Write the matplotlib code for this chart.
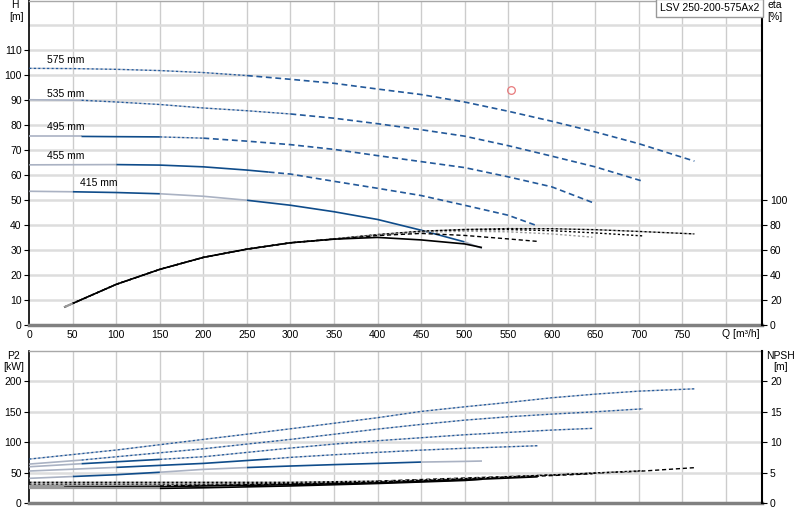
import matplotlib
matplotlib.use("Agg")
import matplotlib.pyplot as plt
import matplotlib.transforms as mtransforms
import numpy as np

plt.rcParams['font.family'] = ['Liberation Sans', 'DejaVu Sans']
FS = 7.5

# ---------------- data ----------------
diameters = ['575', '535', '495', '455', '415']
diam_labels = ['575 mm', '535 mm', '495 mm', '455 mm', '415 mm']

# Q-H curves
q_h_575 = [0, 50, 100, 150, 200, 250, 300, 350, 400, 450, 500, 550, 600, 650, 700, 764]
h_575 = [102.8, 102.7, 102.4, 101.9, 101.1, 99.9, 98.4, 96.8, 94.5, 92.3, 89.3, 85.6, 81.6, 77.3, 72.6, 65.6]
q_h_535 = [0, 60, 100, 150, 200, 250, 300, 350, 400, 450, 500, 550, 600, 650, 705]
h_535 = [90.2, 90.0, 89.3, 88.3, 86.9, 85.8, 84.5, 82.8, 80.6, 78.2, 75.6, 71.8, 67.6, 63.3, 57.5]
q_h_495 = [0, 60, 100, 150, 200, 250, 300, 350, 400, 450, 500, 550, 600, 647]
h_495 = [75.5, 75.5, 75.4, 75.3, 74.8, 73.6, 72.2, 70.3, 67.8, 65.4, 63.0, 59.3, 55.3, 49.0]
q_h_455 = [0, 100, 150, 200, 250, 275, 300, 350, 400, 450, 500, 550, 584]
h_455 = [64.1, 64.2, 64.0, 63.3, 62.0, 61.2, 60.4, 57.5, 54.7, 51.8, 47.9, 43.9, 39.6]
q_h_415 = [0, 50, 100, 150, 200, 250, 300, 350, 400, 450, 500, 520]
h_415 = [53.5, 53.3, 53.0, 52.5, 51.5, 49.9, 47.9, 45.3, 42.2, 37.9, 33.2, 30.6]

# efficiency curves [%]
q_eta_575 = [40, 50, 100, 150, 200, 250, 300, 350, 400, 450, 500, 550, 600, 650, 700, 764]
eta_575 = [14, 17.1, 32.4, 44.4, 54, 60.6, 65.7, 68.8, 72.3, 75.0, 76.4, 77.1, 77.0, 76.2, 74.8, 72.8]
q_eta_535 = [40, 50, 100, 150, 200, 250, 300, 350, 400, 450, 500, 550, 600, 650, 705]
eta_535 = [14, 17.1, 32.4, 44.4, 54, 60.6, 65.7, 68.7, 72.0, 74.6, 76.0, 76.3, 75.4, 73.6, 71.2]
q_eta_495 = [40, 50, 100, 150, 200, 250, 300, 350, 400, 450, 500, 550, 600, 647]
eta_495 = [14, 17.1, 32.4, 44.4, 54, 60.6, 65.7, 68.6, 71.8, 74.0, 75.0, 74.5, 72.8, 70.2]
q_eta_455 = [40, 50, 100, 150, 200, 250, 300, 350, 400, 450, 500, 550, 584]
eta_455 = [14, 17.1, 32.4, 44.4, 54, 60.6, 65.7, 68.6, 71.5, 73.2, 71.6, 68.8, 66.8]
q_eta_415 = [40, 50, 100, 150, 200, 250, 300, 350, 400, 450, 500, 520]
eta_415 = [14, 17.1, 32.4, 44.4, 54, 60.6, 65.7, 68.6, 70.0, 68.0, 64.8, 61.9]

# P2 curves [kW]
q_p2_575 = [0, 100, 200, 250, 300, 400, 450, 500, 550, 600, 650, 700, 764]
p2_575 = [72.1, 87.0, 104.4, 113.0, 121.8, 140.0, 150.3, 157.9, 165.0, 172.7, 178.7, 183.6, 187.4]
q_p2_535 = [0, 60, 100, 200, 300, 400, 450, 500, 550, 600, 650, 705]
p2_535 = [63.9, 70.5, 75.9, 89.0, 104.4, 121.3, 129.0, 136.0, 141.5, 145.9, 149.7, 154.6]
q_p2_495 = [0, 60, 150, 200, 300, 350, 400, 450, 500, 550, 600, 647]
p2_495 = [59.5, 64.5, 71.6, 75.9, 90.2, 96.7, 102.2, 107.1, 112.0, 115.9, 119.7, 122.5]
q_p2_455 = [0, 100, 200, 275, 300, 350, 400, 450, 500, 550, 584]
p2_455 = [52.5, 58.5, 65.0, 72.1, 74.9, 79.2, 83.1, 86.8, 89.8, 92.3, 94.0]
q_p2_415 = [0, 50, 100, 150, 200, 250, 300, 350, 400, 450, 500, 520]
p2_415 = [40.5, 43.5, 46.4, 50.5, 55.2, 58.2, 60.7, 63.0, 65.0, 67.2, 68.3, 68.9]

# NPSH curves [m]
q_n_575 = [0, 40, 150, 200, 300, 400, 500, 600, 700, 764]
npsh_575 = [3.4, 3.4, 3.4, 3.4, 3.4, 3.6, 4.1, 4.6, 5.2, 5.8]
q_n_535 = [0, 40, 150, 200, 300, 400, 500, 600, 705]
npsh_535 = [3.1, 3.1, 3.1, 3.1, 3.2, 3.5, 4.0, 4.6, 5.3]
q_n_495 = [0, 40, 150, 200, 300, 400, 500, 600, 647]
npsh_495 = [2.8, 2.8, 2.8, 2.9, 3.1, 3.4, 3.9, 4.5, 4.8]
q_n_455 = [0, 40, 150, 200, 300, 400, 500, 584]
npsh_455 = [2.6, 2.6, 2.7, 2.8, 3.0, 3.3, 3.8, 4.3]
q_n_415 = [0, 40, 150, 200, 300, 400, 500, 520]
npsh_415 = [2.4, 2.4, 2.4, 2.5, 2.8, 3.2, 3.7, 3.9]

# duty point
duty_q = [553]
duty_h = [94]

h_ticks = list(range(0, 120, 10))
eta_ticks = list(range(0, 120, 20))
q_ticks = list(range(0, 800, 50))
p2_ticks = list(range(0, 250, 50))
npsh_ticks = list(range(0, 25, 5))
title_text = 'LSV 250-200-575Ax2'

# ---------------- styles ----------------
BLUE = '#0f4c8a'
BLUE2 = '#23599a'
GRAYB = '#aab2c3'
STY = {
    'gs': dict(color=GRAYB, lw=1.2, ls='-'),
    'bs': dict(color=BLUE, lw=1.2, ls='-'),
    'bd': dict(color=BLUE2, lw=1.0, ls=(0, (1.6, 1.6)), gapcolor='#b8bfcc'),
    'bk': dict(color=BLUE2, lw=1.2, ls=(0, (3.5, 2.2))),
    'ks': dict(color='black', lw=1.2, ls='-'),
    'kgs': dict(color='#9a9a9a', lw=1.6, ls='-'),
    'kd': dict(color='black', lw=1.0, ls=(0, (3, 2))),
    'kdot': dict(color='black', lw=1.0, ls=(0, (1.6, 1.6))),
    'gdot': dict(color='#9a9a9a', lw=1.0, ls=(0, (1.6, 1.6))),
    'kgdot': dict(color='black', lw=1.0, ls=(0, (1.6, 1.6)), gapcolor='#aaaaaa'),
}

h_seg = {
    '575': [(0, 250, 'bd'), (250, 764, 'bk')],
    '535': [(0, 60, 'gs'), (60, 300, 'bd'), (300, 705, 'bk')],
    '495': [(0, 60, 'gs'), (60, 150, 'bs'), (150, 200, 'bd'), (200, 647, 'bk')],
    '455': [(0, 100, 'gs'), (100, 275, 'bs'), (275, 584, 'bk')],
    '415': [(0, 50, 'gs'), (50, 150, 'bs'), (150, 250, 'gs'), (250, 500, 'bs'), (500, 520, 'gs')],
}
p2_seg = {
    '575': [(0, 764, 'bd')],
    '535': [(0, 60, 'gs'), (60, 705, 'bd')],
    '495': [(0, 60, 'gs'), (60, 150, 'bs'), (150, 647, 'bd')],
    '455': [(0, 100, 'gs'), (100, 275, 'bs'), (275, 584, 'bd')],
    '415': [(0, 50, 'gs'), (50, 150, 'bs'), (150, 250, 'gs'), (250, 450, 'bs'), (450, 520, 'gs')],
}
eta_seg = {
    '575': [(40, 764, 'kgdot')],
    '535': [(40, 705, 'kdot')],
    '495': [(40, 647, 'gdot')],
    '455': [(40, 584, 'kd')],
    '415': [(40, 50, 'kgs'), (50, 520, 'ks')],
}
n_seg = {
    '575': [(0, 400, 'kgdot'), (400, 764, 'kd')],
    '535': [(0, 705, 'kgdot')],
    '495': [(0, 150, 'kgs'), (150, 647, 'kd')],
    '455': [(0, 40, 'kgs'), (40, 584, 'ks')],
    '415': [(0, 150, 'kgs'), (150, 520, 'ks')],
}

H = {'575': (q_h_575, h_575), '535': (q_h_535, h_535), '495': (q_h_495, h_495),
     '455': (q_h_455, h_455), '415': (q_h_415, h_415)}
ETA = {'575': (q_eta_575, eta_575), '535': (q_eta_535, eta_535), '495': (q_eta_495, eta_495),
       '455': (q_eta_455, eta_455), '415': (q_eta_415, eta_415)}
P2 = {'575': (q_p2_575, p2_575), '535': (q_p2_535, p2_535), '495': (q_p2_495, p2_495),
      '455': (q_p2_455, p2_455), '415': (q_p2_415, p2_415)}
NP = {'575': (q_n_575, npsh_575), '535': (q_n_535, npsh_535), '495': (q_n_495, npsh_495),
      '455': (q_n_455, npsh_455), '415': (q_n_415, npsh_415)}


def draw(ax, q, y, segs, z=3):
    q = np.asarray(q, float)
    y = np.asarray(y, float)
    for a, b, s in segs:
        m = (q >= a) & (q <= b)
        ax.plot(q[m], y[m], zorder=z, solid_capstyle='butt', dash_capstyle='butt',
                solid_joinstyle='round', **STY[s])


W, Hh = 800, 520
fig = plt.figure(figsize=(8, 5.2), dpi=100)


def fx(px):
    return px / W


def fy(py):
    return 1 - py / Hh


XMAX = 842
ax = fig.add_axes([fx(29.3), fy(324.7), fx(762.3 - 29.3), (324.7 - 0.5) / Hh])
axb = fig.add_axes([fx(29.3), fy(503), fx(762.3 - 29.3), (503 - 350.7) / Hh])

GRID_H = '#dddddd'
GRID_V = '#cccccc'


def style_axes(a):
    a.set_xlim(0, XMAX)
    a.set_facecolor('white')
    for xv in q_ticks[1:] + [800]:
        a.axvline(xv, color=GRID_V, lw=1.0, zorder=0)
    a.spines['left'].set_color('black')
    a.spines['left'].set_linewidth(1.2)
    a.spines['right'].set_visible(False)
    a.spines['bottom'].set_color('#808080')
    a.spines['bottom'].set_linewidth(2.5)
    a.spines['top'].set_color('#a8a8a8')
    a.spines['top'].set_linewidth(1.0)
    a.tick_params(axis='x', length=0, labelsize=FS, pad=4)
    a.tick_params(axis='y', direction='out', length=3.5, width=0.8, labelsize=FS, pad=2)


style_axes(ax)
style_axes(axb)

# top axes
ax.set_ylim(0, 130)
ax.set_yticks(h_ticks)
for yv in h_ticks[1:] + [120]:
    ax.axhline(yv, color=GRID_H, lw=1.8, zorder=0)
ax.set_xticks(q_ticks)
ax.set_xticklabels([str(v) for v in q_ticks])
ax.text(796, -0.0296, 'Q [m³/h]', transform=mtransforms.blended_transform_factory(ax.transData, ax.transAxes),
        ha='left', va='center', fontsize=FS)

ax2 = ax.twinx()
ax2.set_ylim(0, 260)
ax2.set_yticks(eta_ticks)
for s in ['left', 'top', 'bottom']:
    ax2.spines[s].set_visible(False)
ax2.spines['right'].set_color('black')
ax2.spines['right'].set_linewidth(1.5)
ax2.tick_params(axis='y', direction='out', length=3.5, width=0.8, labelsize=FS, pad=2)

for d in diameters:
    q, y = H[d]
    draw(ax, q, y, h_seg[d])
for d in ['575', '535', '495', '455', '415']:
    q, y = ETA[d]
    draw(ax2, q, y, eta_seg[d])

label_pos = {'575': (20, 106), '535': (20, 92.7), '495': (20, 79.2), '455': (20, 67.6), '415': (58, 56.7)}
for d, lab in zip(diameters, diam_labels):
    ax.text(label_pos[d][0], label_pos[d][1], lab, fontsize=FS, ha='left', va='center', zorder=5)

ax2.plot(duty_q, [v * 2 for v in duty_h], marker='o', ms=5.5, mfc='none', mec='#e87a7c', mew=0.9,
         ls='none', zorder=6)

# bottom axes
axb.set_ylim(0, 250)
axb.set_yticks(p2_ticks)
for yv in p2_ticks[1:]:
    axb.axhline(yv, color=GRID_H, lw=1.8, zorder=0)
axb.set_xticks(q_ticks)
axb.set_xticklabels([])

axb2 = axb.twinx()
axb2.set_ylim(0, 25)
axb2.set_yticks(npsh_ticks)
for s in ['left', 'top', 'bottom']:
    axb2.spines[s].set_visible(False)
axb2.spines['right'].set_color('black')
axb2.spines['right'].set_linewidth(1.5)
axb2.tick_params(axis='y', direction='out', length=3.5, width=0.8, labelsize=FS, pad=2)

for d in diameters:
    q, y = P2[d]
    draw(axb, q, y, p2_seg[d])
for d in ['575', '535', '495', '455', '415']:
    q, y = NP[d]
    draw(axb2, q, y, n_seg[d])

# axis titles
fig.text(fx(15), fy(5.5), 'H', ha='center', va='center', fontsize=FS)
fig.text(fx(16.5), fy(17.5), '[m]', ha='center', va='center', fontsize=FS)
fig.text(fx(774.5), fy(5.5), 'eta', ha='center', va='center', fontsize=FS)
fig.text(fx(775), fy(17.5), '[%]', ha='center', va='center', fontsize=FS)
fig.text(fx(13.3), fy(356), 'P2', ha='center', va='center', fontsize=FS)
fig.text(fx(13.8), fy(366.7), '[kW]', ha='center', va='center', fontsize=FS)
fig.text(fx(780.5), fy(355.7), 'NPSH', ha='center', va='center', fontsize=FS)
fig.text(fx(780.7), fy(367.3), '[m]', ha='center', va='center', fontsize=FS)

fig.text(fx(660), fy(8), title_text, ha='left', va='center', fontsize=FS,
         bbox=dict(boxstyle='square,pad=0.35', facecolor='white', edgecolor='#999999', lw=1.0))

fig.savefig('out.png', dpi=100)
